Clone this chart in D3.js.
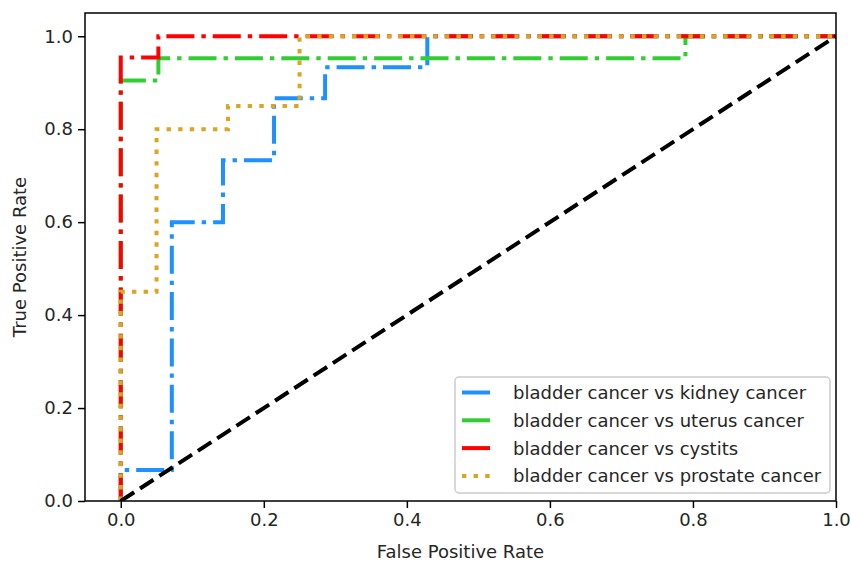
<!DOCTYPE html>
<html>
<head>
<meta charset="utf-8">
<script src="https://cdn.jsdelivr.net/npm/d3@7"></script>
<style>
  body { margin: 0; background: #fff; }
  text { font-family: "DejaVu Sans", sans-serif; fill: #262626; }
</style>
</head>
<body>
<div id="chart"></div>
<script>
// ROC points
const kidneyFpr = [0, 0, 0.0714, 0.0714, 0.1429, 0.1429, 0.2143, 0.2143, 0.2857, 0.2857, 0.4286, 0.4286, 1]
const kidneyTpr = [0, 0.0667, 0.0667, 0.6, 0.6, 0.7333, 0.7333, 0.8667, 0.8667, 0.9333, 0.9333, 1, 1]
const uterusFpr = [0, 0, 0.0526, 0.0526, 0.7895, 0.7895, 1]
const uterusTpr = [0, 0.9048, 0.9048, 0.9524, 0.9524, 1, 1]
const cystitisFpr = [0, 0, 0.0526, 0.0526, 1]
const cystitisTpr = [0, 0.9545, 0.9545, 1, 1]
const prostateFpr = [0, 0, 0.05, 0.05, 0.15, 0.15, 0.25, 0.25, 1]
const prostateTpr = [0, 0.45, 0.45, 0.8, 0.8, 0.85, 0.85, 1, 1]
const chanceLine = [0, 1]

const seriesNames = [
  "bladder cancer vs kidney cancer",
  "bladder cancer vs uterus cancer",
  "bladder cancer vs cystits",
  "bladder cancer vs prostate cancer"
]
const xTicks = [0, 0.2, 0.4, 0.6, 0.8, 1.0]
const yTicks = [0, 0.2, 0.4, 0.6, 0.8, 1.0]

const width = 851
const height = 562
const margin = {top: 13, right: 15, bottom: 61, left: 85}
const chartWidth = width - margin.left - margin.right
const chartHeight = height - margin.top - margin.bottom
const fontSize = "18px"

const dashdot = "28,7,4.4,7"
const series = [
  {name: seriesNames[0], fpr: kidneyFpr, tpr: kidneyTpr, color: "#1e90ff", dash: dashdot},
  {name: seriesNames[1], fpr: uterusFpr, tpr: uterusTpr, color: "#32cd32", dash: dashdot},
  {name: seriesNames[2], fpr: cystitisFpr, tpr: cystitisTpr, color: "#ff0000", dash: dashdot},
  {name: seriesNames[3], fpr: prostateFpr, tpr: prostateTpr, color: "#daa520", dash: "4.4,7.2"}
]

const xScale = d3.scaleLinear().domain([-0.05, 1.0]).range([0, chartWidth])
const yScale = d3.scaleLinear().domain([0, 1.05]).range([chartHeight, 0])

const svg = d3.select("#chart")
  .append("svg")
    .attr("width", width)
    .attr("height", height)

const g = svg.append("g")
  .attr("transform", "translate(" + margin.left + "," + margin.top + ")")

g.append("defs")
  .append("clipPath")
  .attr("id", "clip")
  .append("rect")
  .attr("width", chartWidth)
  .attr("height", chartHeight)

const lineGen = d3.line()
  .x(d => xScale(d[0]))
  .y(d => yScale(d[1]))

const lines = g.append("g").attr("clip-path", "url(#clip)")

series.forEach(s => {
  lines.append("path")
    .datum(s.fpr.map((f, i) => [f, s.tpr[i]]))
    .attr("fill", "none")
    .attr("stroke", s.color)
    .attr("stroke-width", 4)
    .attr("stroke-dasharray", s.dash)
    .attr("d", lineGen)
})

// chance diagonal
lines.append("path")
  .datum(chanceLine.map(v => [v, v]))
  .attr("fill", "none")
  .attr("stroke", "#000")
  .attr("stroke-width", 4)
  .attr("stroke-dasharray", "16,7")
  .attr("d", lineGen)

// axes
const xAxis = g.append("g")
  .attr("transform", "translate(0," + chartHeight + ")")
  .call(d3.axisBottom(xScale).tickValues(xTicks).tickSize(7).tickPadding(5).tickFormat(d3.format(".1f")))
const yAxis = g.append("g")
  .call(d3.axisLeft(yScale).tickValues(yTicks).tickSize(7).tickPadding(5).tickFormat(d3.format(".1f")))

;[xAxis, yAxis].forEach(ax => {
  ax.select(".domain").remove()
  ax.selectAll("line").attr("stroke", "#000").attr("stroke-width", 1.5)
  ax.selectAll("text")
    .style("font-family", "DejaVu Sans")
    .style("font-size", fontSize)
    .attr("fill", "#262626")
})

g.append("rect")
  .attr("width", chartWidth)
  .attr("height", chartHeight)
  .attr("fill", "none")
  .attr("stroke", "#000")
  .attr("stroke-width", 1.5)

// axis labels
svg.append("text")
  .attr("x", margin.left + chartWidth / 2)
  .attr("y", 558)
  .attr("text-anchor", "middle")
  .style("font-size", fontSize)
  .text("False Positive Rate")

svg.append("text")
  .attr("transform", "translate(26," + (margin.top + chartHeight / 2) + ") rotate(-90)")
  .attr("text-anchor", "middle")
  .style("font-size", fontSize)
  .text("True Positive Rate")

// legend
const legend = svg.append("g").attr("transform", "translate(455,377)")
legend.append("rect")
  .attr("width", 375)
  .attr("height", 116)
  .attr("rx", 4)
  .attr("fill", "#fff")
  .attr("fill-opacity", 0.8)
  .attr("stroke", "#cccccc")
  .attr("stroke-width", 1.5)

series.forEach((s, i) => {
  const cy = 15.5 + i * 27.8
  legend.append("line")
    .attr("x1", 7).attr("x2", 36)
    .attr("y1", cy).attr("y2", cy)
    .attr("stroke", s.color)
    .attr("stroke-width", 4)
    .attr("stroke-dasharray", s.dash)
  legend.append("text")
    .attr("x", 58)
    .attr("y", cy + 6.5)
    .style("font-size", fontSize)
    .text(s.name)
})
</script>
</body>
</html>
